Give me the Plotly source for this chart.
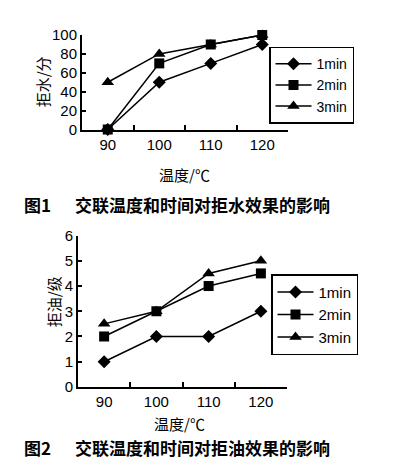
import plotly.graph_objects as go

temps = ["90", "100", "110", "120"]
series_names = ["1min", "2min", "3min"]
water_1min = [0, 50, 70, 90]
water_2min = [0, 70, 90, 100]
water_3min = [50, 80, 90, 100]
oil_1min = [1, 2, 2, 3]
oil_2min = [2, 3, 4, 4.5]
oil_3min = [2.5, 3, 4.5, 5]
water_ticks = [0, 20, 40, 60, 80, 100]
oil_ticks = [0, 1, 2, 3, 4, 5, 6]

W, H = 397, 474
def px(x): return x / W
def py(y): return 1 - y / H

symbols = ["diamond", "square", "triangle-up"]
sizes = [10, 10, 11]
ranks = [1, 2, 3]
draw_order = [0, 2, 1]
FONT = "Liberation Sans, Arial, sans-serif"
CJK = "Noto Sans CJK SC"

fig = go.Figure()
for group, data, xa, ya, leg in [
    ("w", [water_1min, water_2min, water_3min], "x", "y", "legend"),
    ("o", [oil_1min, oil_2min, oil_3min], "x2", "y2", "legend2"),
]:
    for i in draw_order:
        fig.add_trace(go.Scatter(x=temps, y=data[i], name=series_names[i], mode="lines+markers",
                                 line=dict(color="black", width=1.5),
                                 marker=dict(symbol=symbols[i], size=sizes[i], color="black"),
                                 cliponaxis=False, legendrank=ranks[i],
                                 xaxis=xa, yaxis=ya, legend=leg))

xcommon = dict(type="category", range=[-0.5, 3.5], tickson="boundaries", ticks="inside",
               ticklen=5, tickwidth=1.5, tickcolor="black", showline=True, linecolor="black",
               linewidth=2, showgrid=False, zeroline=False,
               tickfont=dict(family=FONT, size=15, color="black"), fixedrange=True)
ycommon = dict(ticks="inside", ticklen=4, tickwidth=1.5, tickcolor="black", showline=True,
               linecolor="black", linewidth=2, showgrid=False, zeroline=False,
               tickfont=dict(family=FONT, size=15, color="black"), fixedrange=True)

legcommon = dict(bgcolor="white", bordercolor="black", borderwidth=1.5,
                 font=dict(family=FONT, size=14, color="black"), itemwidth=36,
                 xanchor="left", yanchor="top", tracegroupgap=0)

fig.update_layout(
    width=W, height=H, margin=dict(l=0, r=0, t=0, b=0),
    paper_bgcolor="white", plot_bgcolor="white",
    xaxis=dict(xcommon, domain=[px(82), px(288)], anchor="y"),
    yaxis=dict(ycommon, domain=[py(125), py(27)], anchor="x", range=[0, 100],
               tickvals=water_ticks),
    xaxis2=dict(xcommon, domain=[px(78), px(287)], anchor="y2"),
    yaxis2=dict(ycommon, domain=[py(392), py(235)], anchor="x2", range=[0, 6],
                tickvals=oil_ticks),
    legend=dict(legcommon, x=px(269), y=py(39)),
    legend2=dict(legcommon, x=px(271), y=py(275), font=dict(family=FONT, size=15, color="black")),
    showlegend=True,
)

ann = [
    dict(text="拒水/分", x=px(42), y=py(76), textangle=-90, size=15),
    dict(text="温度/℃", x=px(184), y=py(172), size=15),
    dict(text="拒油/级", x=px(53), y=py(303), textangle=-90, size=15),
    dict(text="温度/℃", x=px(179), y=py(430), size=15),
]
for a in ann:
    fig.add_annotation(text=a["text"], x=a["x"], y=a["y"], xref="paper", yref="paper",
                       showarrow=False, textangle=a.get("textangle", 0),
                       font=dict(family=CJK, size=a["size"], color="black"),
                       xanchor="center", yanchor="middle")

caps = [("图1", "交联温度和时间对拒水效果的影响", 203), ("图2", "交联温度和时间对拒油效果的影响", 455)]
for lab, txt, yy in caps:
    fig.add_annotation(text="<b>" + lab + "</b>", x=px(22), y=py(yy), xref="paper", yref="paper",
                       showarrow=False, xanchor="left", yanchor="middle",
                       font=dict(family=CJK, size=17, color="black"))
    fig.add_annotation(text="<b>" + txt + "</b>", x=px(73), y=py(yy), xref="paper", yref="paper",
                       showarrow=False, xanchor="left", yanchor="middle",
                       font=dict(family=CJK, size=17, color="black"))

fig.write_html("out.html", config=dict(displayModeBar=False),
               post_script="document.body.style.margin='0';document.body.style.overflow='hidden';")
